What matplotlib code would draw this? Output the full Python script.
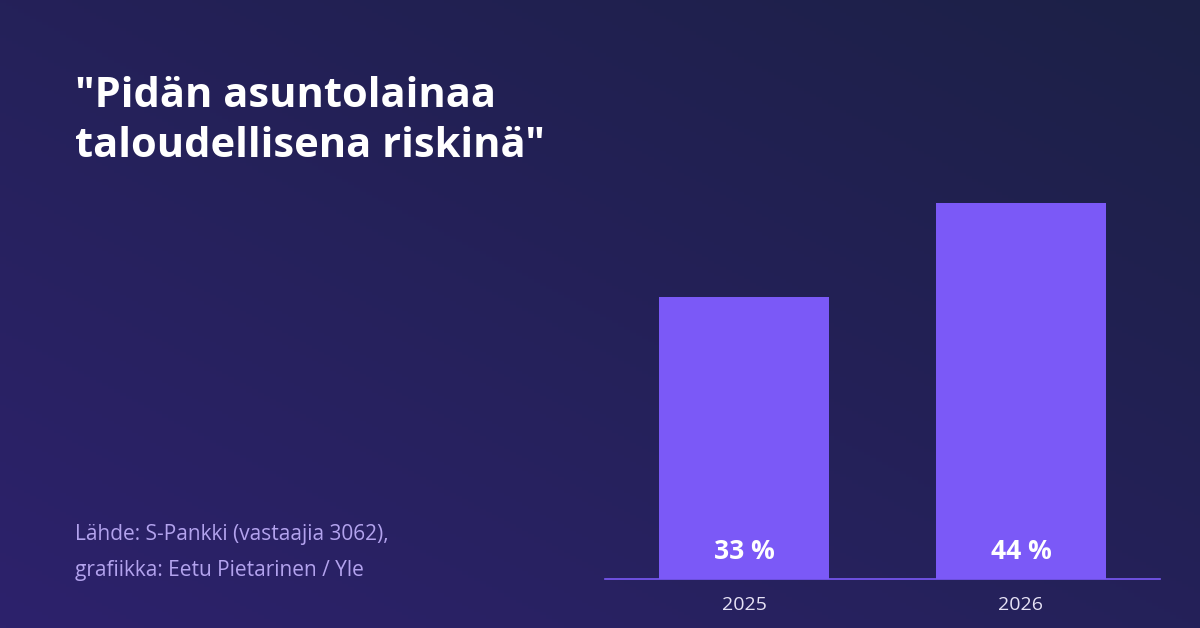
import numpy as np
import matplotlib.pyplot as plt

vuodet = ['2025', '2026']
osuudet = [33, 44]
otsikko = '"Pidän asuntolainaa\ntaloudellisena riskinä"'
lahde = 'Lähde: S-Pankki (vastaajia 3062),\ngrafiikka: Eetu Pietarinen / Yle'

plt.rcParams['font.family'] = ['Open Sans', 'DejaVu Sans']

fig = plt.figure(figsize=(12, 6.28), dpi=100)

# taustan liukuväri: vasen ala violetimpi, oikea ylä tummempi
bg = fig.add_axes([0, 0, 1, 1])
yy, xx = np.mgrid[0:1:200j, 0:1:200j]
t = np.clip((xx + yy) / 2, 0, 1)
c1 = np.array([0x2d, 0x22, 0x6c]) / 255
c2 = np.array([0x1c, 0x20, 0x46]) / 255
img = c1[None, None, :] * (1 - t[..., None]) + c2[None, None, :] * t[..., None]
bg.imshow(img, origin='lower', aspect='auto', extent=[0, 1, 0, 1])
bg.axis('off')

ax = fig.add_axes([605 / 1200, 49 / 628, 555 / 1200, 376 / 628])
ax.patch.set_alpha(0)
x = np.arange(len(vuodet))
ax.bar(x, osuudet, width=0.614, color='#7b59f7')
ax.set_xlim(-0.502, 1.502)
ax.set_ylim(0, 44)
for s in ['top', 'right', 'left']:
    ax.spines[s].set_visible(False)
ax.spines['bottom'].set_color('#7b59f7')
ax.spines['bottom'].set_linewidth(1.2)
ax.set_yticks([])
ax.set_xticks(x)
ax.set_xticklabels(vuodet, fontsize=14, color='#e6e2f5')
ax.tick_params(axis='x', length=0, pad=12)
for xi, v in zip(x, osuudet):
    ax.text(xi, 1.6, f'{v} %', ha='center', va='bottom', fontsize=19,
            fontweight='bold', color='white')

fig.text(75 / 1200, 1 - 76 / 628, otsikko, ha='left', va='top', fontsize=30,
         fontweight='bold', color='white', linespacing=1.3)
fig.text(75 / 1200, 1 - 524 / 628, lahde, ha='left', va='top', fontsize=15,
         color='#b3a3ee', linespacing=1.95)

fig.savefig('out.png', dpi=100)
